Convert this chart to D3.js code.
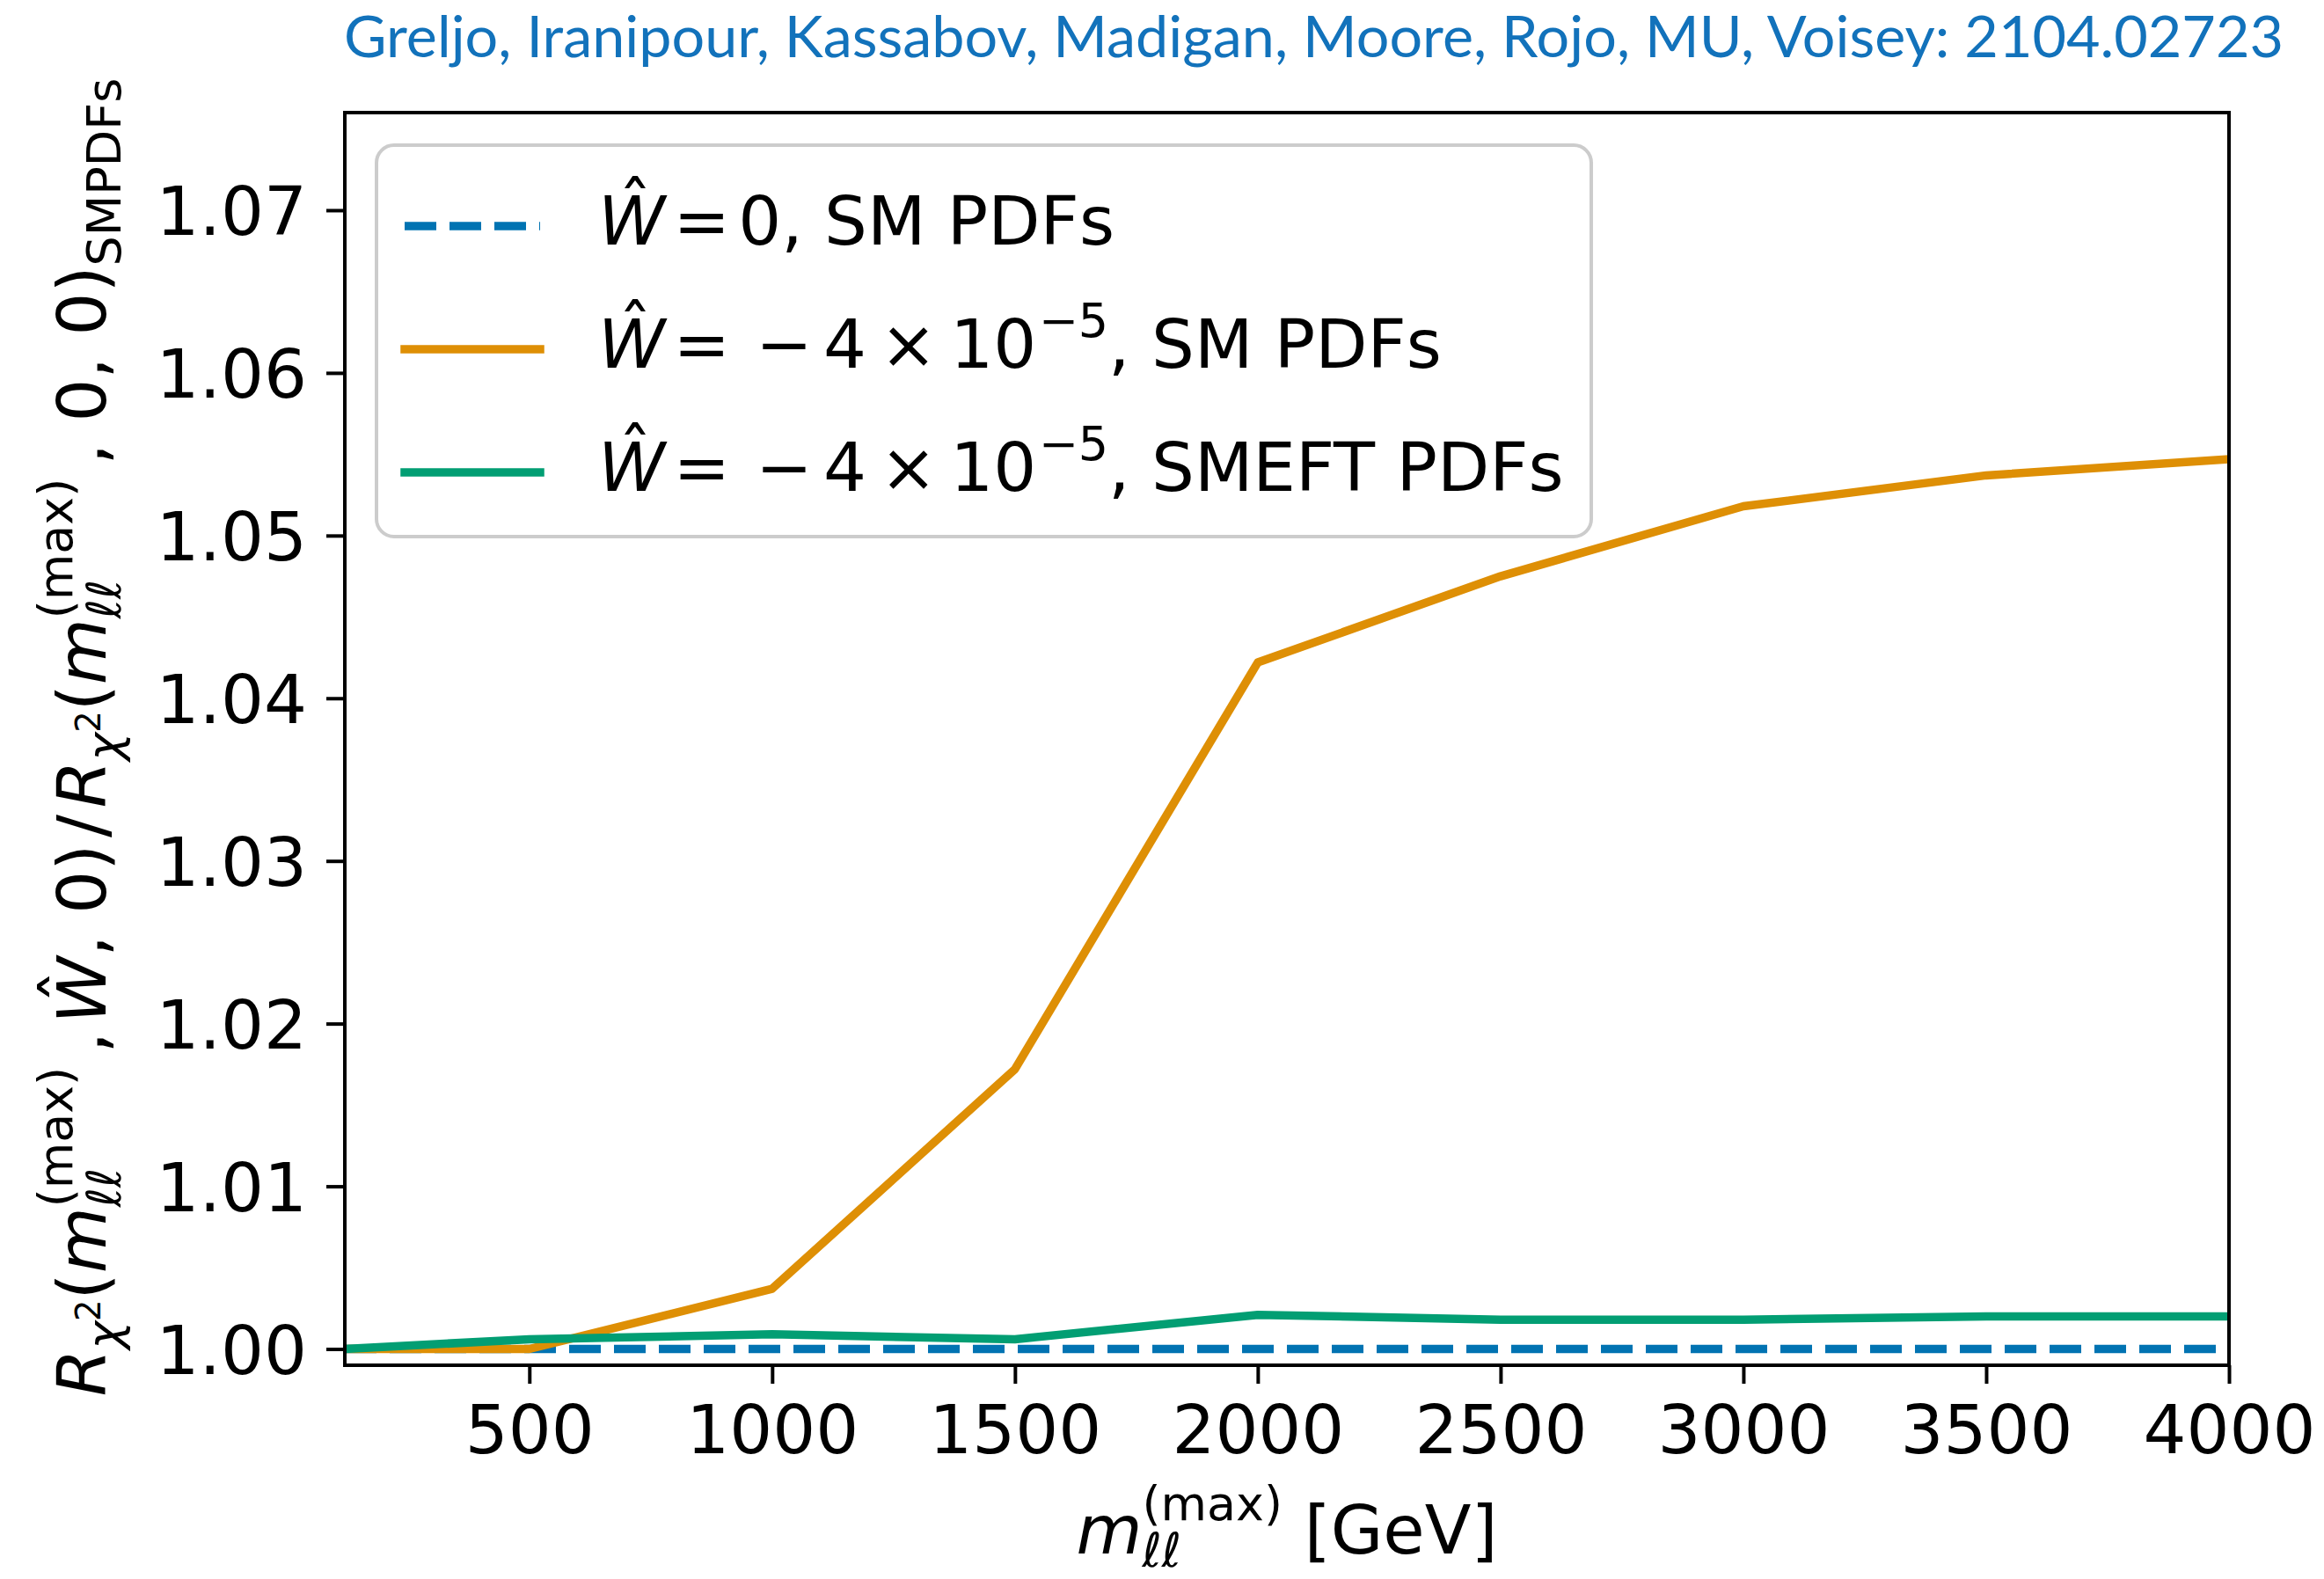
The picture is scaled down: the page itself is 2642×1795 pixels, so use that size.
<!DOCTYPE html>
<html>
<head>
<meta charset="utf-8">
<script src="https://cdn.jsdelivr.net/npm/d3@7"></script>
<style>
  html, body { margin: 0; padding: 0; background: #ffffff; }
  svg { display: block; }
  text { font-family: "DejaVu Sans", sans-serif; fill: #000; white-space: pre; }
</style>
</head>
<body>
<svg id="chart" width="2642" height="1795"></svg>
<script>
// m_ll^(max) values in GeV
const massPoints = [120, 500, 1000, 1500, 2000, 2500, 3000, 3500, 4000];
// chi^2 ratio for each scenario
const ratioSM0 = [1.0000, 1.0000, 1.0000, 1.0000, 1.0000, 1.0000, 1.0000, 1.0000, 1.0000];
const ratioSMPdfs = [1.0000, 1.0000, 1.0037, 1.0172, 1.0422, 1.0475, 1.0518, 1.0537, 1.0547];
const ratioSMEFTPdfs = [1.0000, 1.0006, 1.0009, 1.0006, 1.0021, 1.0018, 1.0018, 1.0020, 1.0020];

const xTicks = [500, 1000, 1500, 2000, 2500, 3000, 3500, 4000];
const yTicks = [1.00, 1.01, 1.02, 1.03, 1.04, 1.05, 1.06, 1.07];
const xDomain = [120, 4000];
const yDomain = [0.999, 1.076];

const seriesNames = ["SM0", "SMPdfs", "SMEFTPdfs"];
const seriesValues = [ratioSM0, ratioSMPdfs, ratioSMEFTPdfs];
const seriesColors = ["#0173b2", "#de8f05", "#029e73"];
const seriesDash = ["36,15", null, null];

const creditText = "Greljo, Iranipour, Kassabov, Madigan, Moore, Rojo, MU, Voisey: 2104.02723";

const svg = d3.select("#chart");
const plot = { left: 392, right: 2534, top: 128, bottom: 1552 };
const FS = 77;      // axis/legend font size
const LW = 9.5;     // line width

const x = d3.scaleLinear().domain(xDomain).range([plot.left, plot.right]);
const y = d3.scaleLinear().domain(yDomain).range([plot.bottom, plot.top]);

// Lay out a run of math-like text pieces (italic, sub/superscripts, stacked scripts)
function mathRuns(g, runs, size) {
  let xpos = 0, lastStart = 0, lastEnd = 0;
  runs.forEach(r => {
    if (r.gap) xpos += r.gap * size;
    const fs = size * (r.s || 1);
    const x0 = r.st ? lastStart : xpos;
    const t = g.append("text")
      .attr("x", x0)
      .attr("y", -(r.r || 0) * size)
      .style("font-size", fs + "px")
      .style("font-style", r.it ? "italic" : "normal")
      .text(r.t);
    const w = t.node().getComputedTextLength();
    if (r.hat) {
      g.append("text")
        .attr("x", x0 + w * 0.55)
        .attr("y", -0.22 * size)
        .attr("text-anchor", "middle")
        .style("font-size", fs + "px")
        .text("\u02C6");
    }
    if (r.st) {
      xpos = Math.max(lastEnd, x0 + w);
    } else {
      lastStart = x0;
      xpos = x0 + w;
    }
    lastEnd = Math.max(xpos, x0 + w);
    if (!r.st) lastEnd = x0 + w;
  });
  return xpos;
}

// Credit line
const credit = svg.append("text")
  .attr("x", 391).attr("y", 65)
  .style("font-family", "Lato, 'Open Sans', sans-serif")
  .style("font-size", "66px")
  .style("fill", "#1272bb")
  .text(creditText);
credit.attr("textLength", 2205).attr("lengthAdjust", "spacingAndGlyphs");

// Clip region for data lines
svg.append("clipPath").attr("id", "plotClip")
  .append("rect")
  .attr("x", plot.left).attr("y", plot.top)
  .attr("width", plot.right - plot.left).attr("height", plot.bottom - plot.top);

const line = d3.line().x(d => x(d[0])).y(d => y(d[1]));
const linesG = svg.append("g").attr("clip-path", "url(#plotClip)");
seriesValues.forEach((vals, i) => {
  linesG.append("path")
    .datum(massPoints.map((m, k) => [m, vals[k]]))
    .attr("d", line)
    .attr("fill", "none")
    .attr("stroke", seriesColors[i])
    .attr("stroke-width", LW)
    .attr("stroke-linejoin", "round")
    .attr("stroke-dasharray", seriesDash[i]);
});

// Axes
const xAxis = d3.axisBottom(x).tickValues(xTicks).tickSize(21).tickPadding(24)
  .tickFormat(d3.format("d"));
const yAxis = d3.axisLeft(y).tickValues(yTicks).tickSize(21).tickPadding(22)
  .tickFormat(d3.format(".2f"));

const gx = svg.append("g").attr("transform", `translate(0,${plot.bottom})`).call(xAxis);
const gy = svg.append("g").attr("transform", `translate(${plot.left},0)`).call(yAxis);
[gx, gy].forEach(g => {
  g.select(".domain").remove();
  g.selectAll(".tick line").attr("stroke", "#000").attr("stroke-width", 4);
  g.selectAll(".tick text")
    .style("font-family", "'DejaVu Sans', sans-serif")
    .style("font-size", FS + "px")
    .attr("fill", "#000");
});
gx.selectAll(".tick text").attr("dy", "0.71em");
gy.selectAll(".tick text").attr("dy", "0.36em");

// Frame
svg.append("rect")
  .attr("x", plot.left).attr("y", plot.top)
  .attr("width", plot.right - plot.left).attr("height", plot.bottom - plot.top)
  .attr("fill", "none").attr("stroke", "#000").attr("stroke-width", 4);

// X axis label
const xl = svg.append("g");
const xlW = mathRuns(xl, [
  { t: "m", it: true },
  { t: "\u2113\u2113", it: true, s: 0.7, r: -0.19 },
  { t: "(max)", s: 0.7, r: 0.5, st: true },
  { t: "[GeV]", gap: 0.32 }
], FS);
xl.attr("transform", `translate(${(plot.left + plot.right) / 2 - xlW / 2},1766)`);

// Y axis label
const yl = svg.append("g");
const chiSub = [
  { t: "\u03C7", it: true, s: 0.7, r: -0.22 },
  { t: "2", s: 0.5, r: 0.08 }
];
const mSub = [
  { t: "m", it: true },
  { t: "\u2113\u2113", it: true, s: 0.7, r: -0.22 },
  { t: "(max)", s: 0.7, r: 0.5, st: true }
];
const ylW = mathRuns(yl, [
  { t: "R", it: true }, ...chiSub,
  { t: "(" }, ...mSub,
  { t: ",", gap: 0.2 },
  { t: "W", it: true, hat: true, gap: 0.12 },
  { t: ", 0)" },
  { t: "/", gap: 0.1 },
  { t: "R", it: true, gap: 0.1 }, ...chiSub,
  { t: "(" }, ...mSub,
  { t: ", 0, 0)", gap: 0.2 },
  { t: "SMPDFs", s: 0.7, r: -0.22 }
], FS);
yl.attr("transform", `translate(120,${838 + ylW / 2}) rotate(-90)`);

// Legend
const legend = svg.append("g");
legend.append("rect")
  .attr("x", 428).attr("y", 165).attr("width", 1381).attr("height", 445)
  .attr("rx", 20).attr("ry", 20)
  .attr("fill", "#fff").attr("fill-opacity", 0.8)
  .attr("stroke", "#cccccc").attr("stroke-width", 4);

const expRuns = [
  { t: "W", it: true, hat: true }, { t: "=", gap: 0.12 }, { t: "\u2212", gap: 0.38 }, { t: "4", gap: 0.16 },
  { t: "\u00D7", gap: 0.2 }, { t: "10", gap: 0.2 }, { t: "\u22125", s: 0.7, r: 0.45, gap: 0.03 }
];
const legendRows = [
  [{ t: "W", it: true, hat: true }, { t: "=", gap: 0.12 }, { t: "0, SM PDFs", gap: 0.12 }],
  [...expRuns, { t: ", SM PDFs" }],
  [...expRuns, { t: ", SMEFT PDFs" }]
];
const rowY = [257, 397, 537];
legendRows.forEach((runs, i) => {
  legend.append("line")
    .attr("x1", 460).attr("x2", 614)
    .attr("y1", rowY[i]).attr("y2", rowY[i])
    .attr("stroke", seriesColors[i])
    .attr("stroke-width", LW)
    .attr("stroke-linecap", seriesDash[i] ? "butt" : "square")
    .attr("stroke-dasharray", seriesDash[i]);
  const g = legend.append("g").attr("transform", `translate(680,${rowY[i] + 21})`);
  mathRuns(g, runs, FS);
});
</script>
</body>
</html>
